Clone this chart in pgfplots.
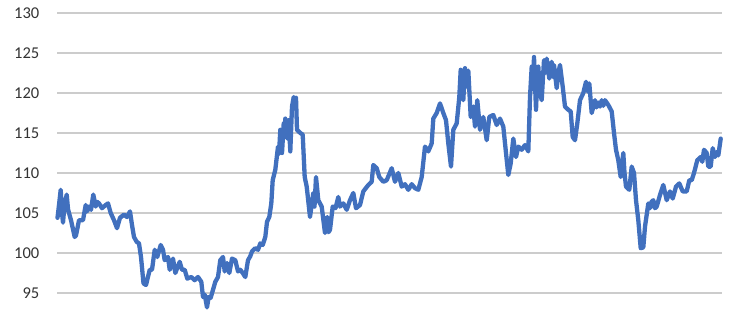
\documentclass[border=0pt]{standalone}
\usepackage{fontspec}
\setmainfont{Carlito}
\usepackage{pgfplots}
\pgfplotsset{compat=1.18}
\definecolor{lineblue}{HTML}{4170BE}
\definecolor{gridgray}{HTML}{CCCCCC}
\definecolor{labgray}{HTML}{333333}
\begin{document}
\begin{tikzpicture}
\useasboundingbox (0,0) rectangle (742pt,314pt);
\begin{axis}[
  at={(57pt,0pt)}, anchor=south west,
  scale only axis, width=665pt, height=301pt,
  xmin=57, xmax=722, ymin=92.375, ymax=130,
  xtick=\empty,
  ytick={95,100,...,130},
  yticklabels={95,100,105,110,115,120,125,130},
  ymajorgrids, grid style={gridgray, line width=1.6pt},
  axis line style={draw=none},
  major tick length=0pt,
  yticklabel shift=17.5pt,
  y tick label style={font=\fontsize{16.5}{18}\selectfont, text=labgray, anchor=east, inner sep=0pt},
  clip=false,
]
\addplot[lineblue, line width=4.3pt, line join=round, line cap=round] coordinates {
(57.5,104.4)(59,106)(60.7,107.9)(62,105)(63,103.8)(64.5,106)(66.7,107.3)(68,105.5)(69,105)(71,104.1)(74.7,102)(76,102.2)(79,104.1)(83,104.1)
(85.7,106)(87,105.2)(89,105.8)(91,105.4)(93.3,107.3)(95.7,105.8)(97,106.4)(99,106.2)(102,105.6)(105.7,106)(108,106.2)(110.7,105)(114,104.1)
(117,103.1)(120,104.4)(124,104.8)(127,104.5)(130,105.2)(132,103.5)(134,102)(136.7,101.4)(139,101.2)(141,99.5)
(143.5,96.2)(146,96)(149.7,97.9)(152,97.9)(154.7,100.4)(157.3,99.5)(160.7,101)(163,100.4)(164.7,99.1)(168,99.5)
(169.7,97.9)(173,99.3)(175.3,97.5)(179.7,98.9)(182,97.9)(184.7,97.9)(187.3,96.8)(191.3,97)(194.7,96.6)(198,97)
(201.3,96.4)(203,94.5)(204.7,94.8)(207,93.2)(208.7,94.5)(210.7,94.4)(213,95.4)(215.3,96.4)(218,97)(220.3,99.1)
(223,99.5)(224.7,97.7)(227,98.75)(229.3,97.5)(232,99.3)(235.3,99.1)(238,97.7)(240.3,97.9)(242.7,97.5)(245.3,97)
(248,99.1)(250.3,99.6)(252,100.2)(255.3,100.6)(258,100.4)(260.3,101.2)(262.7,101)(265.3,102)(267,103.9)(269.3,104.5)
(271.3,106.2)(272.7,109.1)(275.3,110.4)(278,113.3)(279,112.4)(280.3,115.4)(282,112.5)(283.7,116.2)(284.5,114.5)(285.3,116.8)(287.3,114.3)(288.7,116.6)
(290.3,112.7)(292,118.3)(293.7,119.5)(295,118.2)(296,119.4)(297,115.4)(300.3,115)(302.7,114.8)(304.7,109.5)(306.7,108.3)(310,104.5)
(313.3,107.5)(314.5,105.8)(316,109.5)(318.3,106.6)(321.7,105.8)(325,102.5)(326,104)(327.3,104.5)(328.5,102.6)(330,102.9)(332.7,105.8)(335.5,105.6)(338.3,107)
(340,105.8)(343.3,106.2)(346.7,105.4)(350,106.6)(353.3,107.5)(356,105.6)(360,106)(363.3,107.7)(368.3,108.5)(371.7,108.9)
(373.3,111)(376.7,110.6)(379.3,109.5)(383.3,108.9)(386.7,109.1)(391.7,110.6)(395,108.9)(398.3,110)(401.7,108.3)(405,108.6)
(408.3,107.9)(411.7,108.6)(415,108.1)(418.3,107.9)(421.7,109.5)(425,113.3)(428.3,112.7)(431.7,113.7)(433.3,116.8)(436.7,117.5)
(440,118.7)(443.3,117.5)(446,116.6)(448.3,113.7)(451,110.8)(453.3,115.4)(456.7,116.2)(459.3,119.5)(460.7,122.9)(462,120.5)(463.3,119.1)
(465,123.1)(466.5,120.8)(468.3,122.8)(470.7,117)(473.3,118.3)(475,115.8)(477.3,119.1)(480,115.4)(483.3,117)(486.7,114.1)(489.3,117)
(493.3,117.25)(496.7,116)(500,116.8)(503.3,115.8)(506,112.5)(508.3,109.75)(510.7,111.2)(513.3,114.3)(516,112)(518.3,113.3)
(521.7,112.9)(525,113.5)(528.3,112.7)(530,119.5)(531.7,123.3)(532.8,120.5)(534,124.5)(536,117.9)(537,121)(538.3,123.3)(540,120)(541.7,119.1)
(543,122)(544,124.1)(545.3,122.5)(546.7,124.3)(549.3,121.8)(550.5,123)(551.7,123.9)(553,122)(554,123.5)(556.7,120.6)(558.3,122.5)(560,123.5)(562.7,120.8)(565,118.3)(568.3,117.9)
(570.7,117.7)(572.7,114.5)(575,114.1)(577.3,116.2)(580,119.1)(583.3,120)(586,121.4)(587.5,120.2)(589.3,121.2)(591.7,117.5)(595,119.1)
(596.5,118.2)(598.3,118.8)(600,118.3)(601.7,119.1)(603.3,118.4)(605,119.1)(608.3,118.5)(611.7,117.7)(614,115)(616,112.9)(618.3,111.6)(620.7,109.5)(623.3,112.5)
(624.5,110)(626,108.3)(629.3,107.9)(631.7,110.8)(634,110)(636,106.6)(638.3,104.1)(640.7,100.6)(643.3,100.7)(645,103.3)(648.3,106.2)
(650,105.6)(651.5,106.4)(653.3,106.6)(655,105.6)(656.7,105.8)(660,107.25)(663.3,108.5)(666.7,106.6)(670,107.7)(672.7,106.8)(676,108.3)(679.3,108.7)
(682.7,107.7)(686.7,107.7)(689.3,109.1)(691.7,109.1)(694,110)(697.3,111.6)(700.7,112)(702.3,111.4)(704,112.9)(706.7,112.5)(708.3,110.8)
(710.7,110.8)(712.7,113.1)(715,112)(716.5,112.6)(718.3,112.2)(720.7,114.3)
};
\end{axis}
\end{tikzpicture}
\end{document}
